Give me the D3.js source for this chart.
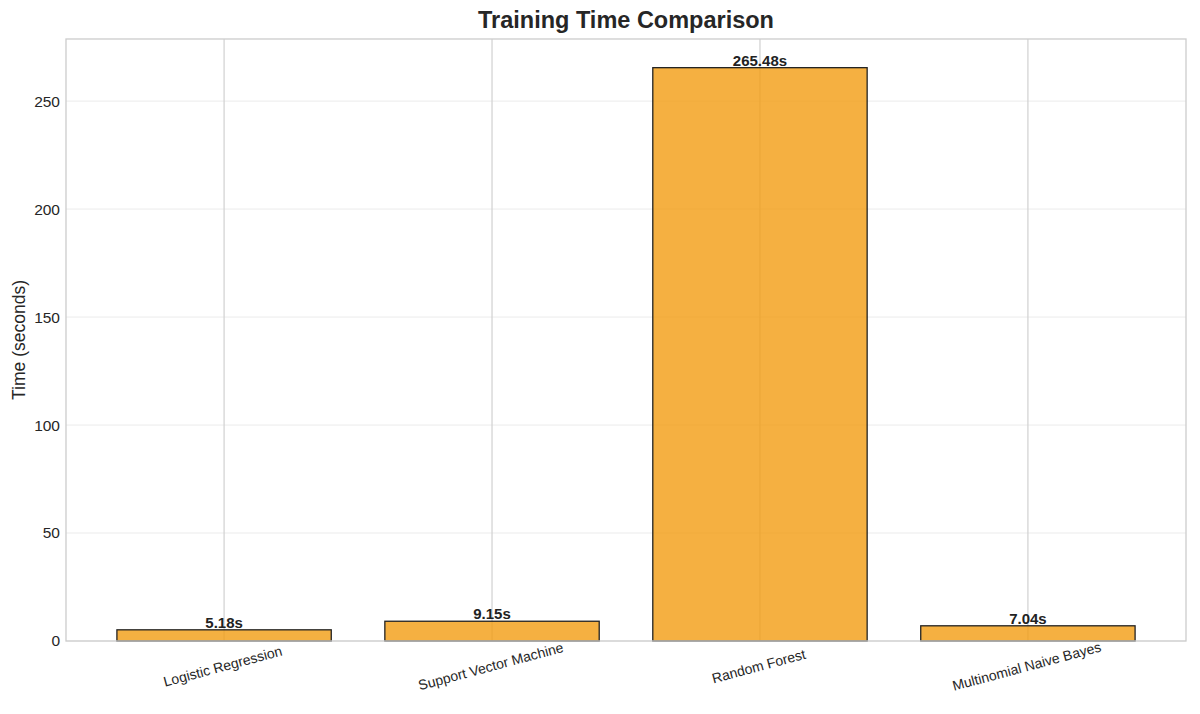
<!DOCTYPE html>
<html>
<head>
<meta charset="utf-8">
<script src="https://cdn.jsdelivr.net/npm/d3@7"></script>
<style>
  html, body { margin: 0; padding: 0; background: #ffffff; }
  svg { display: block; font-family: "Liberation Sans", Arial, sans-serif; }
</style>
</head>
<body>
<svg id="chart"></svg>
<script>
const models = ["Logistic Regression", "Support Vector Machine", "Random Forest", "Multinomial Naive Bayes"];
const trainTimes = [5.18, 9.15, 265.48, 7.04];
const yTicks = [0, 50, 100, 150, 200, 250];

const width = 1200;
const height = 714;
const margin = { top: 39, right: 14, bottom: 73, left: 66 };
const innerW = width - margin.left - margin.right;
const innerH = height - margin.top - margin.bottom;

const svg = d3.select("#chart")
    .attr("width", width)
    .attr("height", height);

// linear x mimicking matplotlib bar layout (width 0.8, 5% margins)
const x = d3.scaleLinear()
    .domain([-0.59, models.length - 1 + 0.59])
    .range([margin.left, margin.left + innerW]);
const barW = x(0.8) - x(0);

const y = d3.scaleLinear()
    .domain([0, d3.max(trainTimes) * 1.05])
    .range([margin.top + innerH, margin.top]);

// horizontal grid
svg.append("g")
    .selectAll("line")
    .data(yTicks)
    .join("line")
    .attr("x1", margin.left)
    .attr("x2", margin.left + innerW)
    .attr("y1", d => y(d))
    .attr("y2", d => y(d))
    .attr("stroke", "#ebebeb")
    .attr("stroke-width", 1);

// vertical grid at categories
svg.append("g")
    .selectAll("line")
    .data(models)
    .join("line")
    .attr("x1", (d, i) => x(i))
    .attr("x2", (d, i) => x(i))
    .attr("y1", margin.top)
    .attr("y2", margin.top + innerH)
    .attr("stroke", "#d0d0d0")
    .attr("stroke-width", 1.2);

// bars
svg.append("g")
    .selectAll("rect")
    .data(trainTimes)
    .join("rect")
    .attr("x", (d, i) => x(i) - barW / 2)
    .attr("y", d => y(d))
    .attr("width", barW)
    .attr("height", d => y(0) - y(d))
    .attr("fill", "#f39c12")
    .attr("fill-opacity", 0.8)
    .attr("stroke", "#222222")
    .attr("stroke-width", 1.3);

// value labels
svg.append("g")
    .selectAll("text")
    .data(trainTimes)
    .join("text")
    .attr("x", (d, i) => x(i))
    .attr("y", d => y(d) - 2)
    .attr("text-anchor", "middle")
    .attr("font-size", 15)
    .attr("font-weight", 700)
    .attr("fill", "#222222")
    .text(d => `${d.toFixed(2)}s`);

// frame
svg.append("rect")
    .attr("x", margin.left)
    .attr("y", margin.top)
    .attr("width", innerW)
    .attr("height", innerH)
    .attr("fill", "none")
    .attr("stroke", "#cccccc")
    .attr("stroke-width", 1.3);

// y axis ticks
const yAxis = svg.append("g")
    .attr("transform", `translate(${margin.left},0)`)
    .call(d3.axisLeft(y).tickValues(yTicks).tickSize(0).tickPadding(6));
yAxis.select(".domain").remove();
yAxis.selectAll("text")
    .attr("font-size", 15.5)
    .attr("fill", "#262626")
    .attr("font-family", "Liberation Sans, Arial, sans-serif");

// x labels, rotated
svg.append("g")
    .selectAll("text")
    .data(models)
    .join("text")
    .attr("transform", (d, i) => `translate(${x(i)},${y(0) + 30}) rotate(-15)`)
    .attr("text-anchor", "middle")
    .attr("font-size", 14)
    .attr("fill", "#262626")
    .text(d => d);

// y axis label
svg.append("text")
    .attr("transform", `translate(25,${margin.top + innerH / 2}) rotate(-90)`)
    .attr("text-anchor", "middle")
    .attr("font-size", 17.5)
    .attr("fill", "#262626")
    .text("Time (seconds)");

// title
svg.append("text")
    .attr("x", margin.left + innerW / 2)
    .attr("y", 28)
    .attr("text-anchor", "middle")
    .attr("font-size", 23.5)
    .attr("font-weight", 700)
    .attr("fill", "#262626")
    .text("Training Time Comparison");
</script>
</body>
</html>
